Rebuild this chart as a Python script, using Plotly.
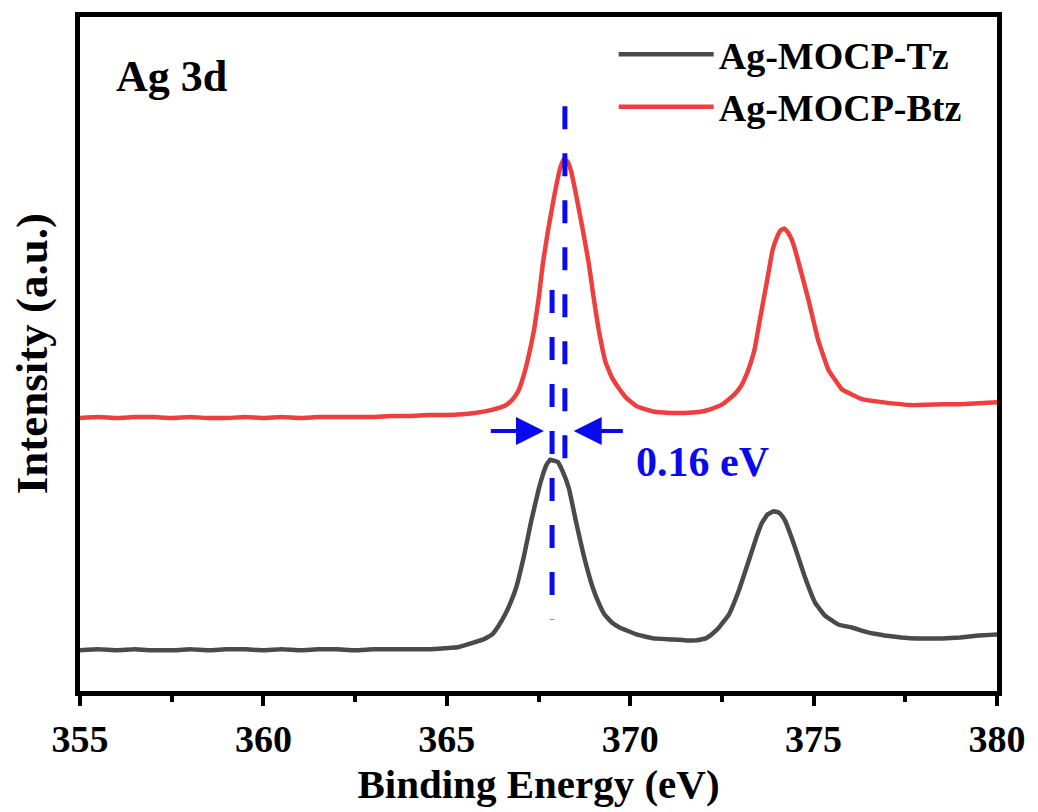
import plotly.graph_objects as go

# ---- data (Binding energy in eV, intensity in a.u.) ----
tz_energy = [355.0, 355.5, 356.0, 356.5, 357.0, 357.5, 358.0, 358.5, 359.0, 359.5,
             360.0, 360.5, 361.0, 361.5, 362.0, 362.5, 363.0, 363.5, 364.0, 364.5,
             364.94, 365.3, 365.75, 366.0, 366.24, 366.4, 366.59, 366.75, 366.89, 367.11,
             367.30, 367.51, 367.62, 367.72, 367.82, 367.92, 368.02, 368.15, 368.33, 368.52,
             368.73, 368.98, 369.15, 369.30, 369.5, 369.71, 369.9, 370.17, 370.63, 371.1,
             371.52, 371.8, 372.06, 372.25, 372.42, 372.69, 372.96, 373.23, 373.47, 373.6,
             373.75, 373.91, 374.04, 374.15, 374.23, 374.50, 374.77, 375.04, 375.31, 375.67,
             376.04, 376.48, 376.94, 377.4, 377.83, 378.5, 379.0, 379.5, 380.0]
tz_intensity = [41, 42, 41, 42, 41, 41, 42, 41, 42, 42,
                41, 42, 41, 42, 42, 41, 42, 42, 42, 42,
                43, 44, 49, 52, 57, 65, 77, 90, 104, 137,
                171, 204, 218, 228, 233, 232, 231, 222, 204, 171,
                137, 104, 88, 77, 69, 64, 61, 57, 53, 52,
                51, 51, 53, 58, 64, 77, 101, 131, 158, 170,
                178, 181, 180, 176, 171, 144, 114, 89, 76, 67,
                64, 59, 56, 54, 53, 53, 54, 56, 57]

btz_energy = [355.0, 355.5, 356.0, 356.5, 357.0, 357.5, 358.0, 358.5, 359.0, 359.5,
              360.0, 360.5, 361.0, 361.5, 362.0, 362.5, 363.0, 363.5, 364.0, 364.5,
              365.0, 365.75, 366.2, 366.4, 366.57, 366.75, 366.88, 366.97, 367.08, 367.19,
              367.38, 367.51, 367.62, 367.76, 367.92, 368.0, 368.1, 368.2, 368.3, 368.4,
              368.54, 368.71, 368.87, 369.00, 369.14, 369.33, 369.5, 369.71, 369.9, 370.17,
              370.4, 370.71, 371.3, 371.87, 372.2, 372.52, 372.82, 373.0, 373.15, 373.28,
              373.39, 373.55, 373.72, 373.88, 374.0, 374.1, 374.2, 374.3, 374.4, 374.50,
              374.86, 375.12, 375.40, 375.77, 376.32, 376.86, 377.67, 378.5, 379.0, 379.5,
              380.0]
btz_intensity = [275, 276, 275, 276, 276, 275, 276, 275, 275, 276,
                 275, 276, 275, 276, 276, 276, 276, 277, 277, 278,
                 278, 280, 283, 285, 287, 292, 298, 304, 316, 331,
                 364, 397, 431, 464, 497, 512, 528, 536, 533, 522,
                 497, 464, 431, 397, 364, 331, 316, 304, 295, 287,
                 284, 281, 280, 281, 284, 289, 298, 306, 317, 330,
                 344, 377, 411, 444, 457, 464, 466, 462, 455, 444,
                 394, 354, 324, 304, 294, 291, 288, 289, 289, 290,
                 291]

series_names = ["Ag-MOCP-Tz", "Ag-MOCP-Btz"]
x_ticks = [355, 360, 365, 370, 375, 380]

# guide lines at the two Ag 3d5/2 peak positions
peak_positions = [368.22, 367.87]          # Btz, Tz
guide_spans = [(589, 214), (404, 72)]      # top -> bottom intensity of each dashed guide
shift_label = "0.16 eV"
arrow_y = 262
arrow_left = (366.16, 367.65)   # tail, tip
arrow_right = (369.84, 368.46)  # tail, tip

FONT = "Liberation Serif"
BLUE = "#0A0AF0"

fig = go.Figure()
fig.add_trace(go.Scatter(x=tz_energy, y=tz_intensity, mode="lines", name=series_names[0],
                         line=dict(color="#4A4A4A", width=4.5, shape="spline", smoothing=0.3)))
fig.add_trace(go.Scatter(x=btz_energy, y=btz_intensity, mode="lines", name=series_names[1],
                         line=dict(color="#EF3E3E", width=4.5, shape="spline", smoothing=0.3)))

for xp, (y0, y1) in zip(peak_positions, guide_spans):
    fig.add_shape(type="line", xref="x", yref="y", x0=xp, x1=xp, y0=y0, y1=y1,
                  line=dict(color=BLUE, width=5, dash="23px,24px"))

for tail, tip in (arrow_left, arrow_right):
    fig.add_annotation(x=tip, y=arrow_y, ax=tail, ay=arrow_y, xref="x", yref="y",
                       axref="x", ayref="y", text="", showarrow=True,
                       arrowhead=2, arrowsize=1.4, arrowwidth=4, arrowcolor=BLUE)

fig.add_annotation(x=371.96, y=231, xref="x", yref="y", text=shift_label, showarrow=False,
                   xanchor="center", yanchor="middle",
                   font=dict(family=FONT, size=42, color=BLUE, weight="bold"))

fig.add_annotation(x=0.037, y=0.912, xref="paper", yref="paper", text="Ag 3d",
                   showarrow=False, xanchor="left", yanchor="middle",
                   font=dict(family=FONT, size=44, color="black", weight="bold"))

# y-axis title placed as rotated text to the left of the frame
fig.add_annotation(x=-0.052, y=0.5, xref="paper", yref="paper", text="Intensity (a.u.)",
                   showarrow=False, textangle=-90, xanchor="center", yanchor="middle",
                   font=dict(family=FONT, size=45, color="black", weight="bold"))

fig.update_layout(
    width=1038, height=812,
    margin=dict(l=80, r=35, t=15, b=118),
    paper_bgcolor="white", plot_bgcolor="white",
    font=dict(family=FONT, color="black", weight="bold"),
    showlegend=True,
    legend=dict(x=0.582, y=0.991, xanchor="left", yanchor="top",
                bgcolor="rgba(0,0,0,0)", borderwidth=0, itemwidth=95,
                font=dict(family=FONT, size=38, color="black", weight="bold"),
                tracegroupgap=0),
)
fig.update_xaxes(
    range=[355, 380], tickvals=x_ticks, ticktext=[str(v) for v in x_ticks],
    showgrid=False, zeroline=False,
    showline=True, linecolor="black", linewidth=5, mirror=True,
    ticks="outside", ticklen=10, tickwidth=4, tickcolor="black",
    tickfont=dict(family=FONT, size=38, color="black", weight="bold"),
    minor=dict(dtick=2.5, tick0=355, ticks="outside", ticklen=6, tickwidth=4, tickcolor="black"),
    title=dict(text="Binding Energy (eV)", standoff=12,
               font=dict(family=FONT, size=41, color="black", weight="bold")),
)
fig.update_yaxes(
    range=[0, 679], showticklabels=False, ticks="",
    showgrid=False, zeroline=False,
    showline=True, linecolor="black", linewidth=5, mirror=True,
)

fig.write_html("out.html")
